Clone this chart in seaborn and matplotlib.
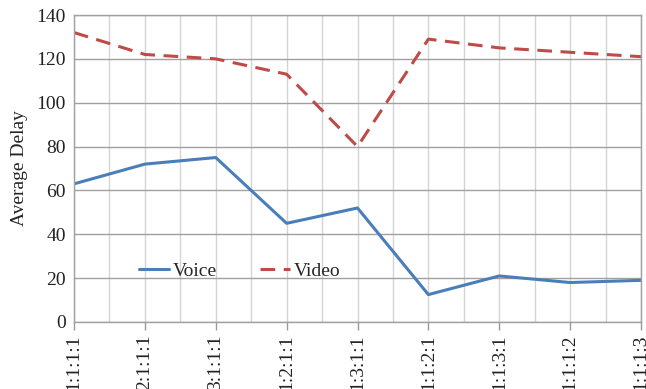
import matplotlib
matplotlib.use("Agg")
import matplotlib.pyplot as plt
import seaborn as sns
import pandas as pd
from matplotlib.ticker import MultipleLocator

# Traffic mix ratios and average delay per traffic class
ratios = ["1:1:1:1", "2:1:1:1", "3:1:1:1", "1:2:1:1", "1:3:1:1",
          "1:1:2:1", "1:1:3:1", "1:1:1:2", "1:1:1:3"]
voice = [63, 72, 75, 45, 52, 12.5, 21, 18, 19]
video = [132, 122, 120, 113, 80, 129, 125, 123, 121]

df = pd.DataFrame({
    "idx": list(range(len(ratios))) * 2,
    "delay": voice + video,
    "series": ["Voice"] * len(ratios) + ["Video"] * len(ratios),
})

sns.set_theme(style="white")
plt.rcParams["font.family"] = ["Liberation Serif", "DejaVu Serif"]

FS = 14

fig = plt.figure(figsize=(6.46, 3.89), dpi=100)
ax = fig.add_axes([74 / 646, 67 / 389, 567 / 646, 307 / 389])

sns.lineplot(data=df, x="idx", y="delay", hue="series", style="series",
             palette={"Voice": "#4a7ebb", "Video": "#be4b48"},
             dashes={"Voice": "", "Video": (4.8, 2.8)},
             linewidth=2.2, ax=ax)

ax.set_xlim(0, len(ratios) - 1)
ax.set_ylim(0, 140)
ax.yaxis.set_major_locator(MultipleLocator(20))
ax.set_xticks(range(len(ratios)))
ax.set_xticklabels(ratios, rotation=90, fontsize=FS, color="#222222")
ax.set_xticks([i + 0.5 for i in range(len(ratios) - 1)], minor=True)
ax.tick_params(axis="y", labelsize=FS, labelcolor="#222222", length=0, pad=6)
ax.tick_params(axis="x", which="major", length=6, width=1, color="#999999",
               direction="out", bottom=True, pad=3)
ax.tick_params(axis="x", which="minor", length=0)

ax.grid(True, axis="y", color="#a0a0a0", linewidth=1.0)
ax.grid(True, axis="x", which="both", color="#d4d4d4", linewidth=1.0)
ax.set_axisbelow(True)
for s in ax.spines.values():
    s.set_color("#a0a0a0")
    s.set_linewidth(1.0)

ax.set_xlabel("")
ax.set_ylabel("Average Delay", fontsize=FS, color="#222222", labelpad=6)

handles, labels = ax.get_legend_handles_labels()
ax.legend(handles, labels, loc="center", bbox_to_anchor=(0.292, 0.166),
          ncol=2, frameon=False, fontsize=FS, handlelength=1.55,
          handletextpad=0.2, columnspacing=2.2)

fig.savefig("out.png", dpi=100)
